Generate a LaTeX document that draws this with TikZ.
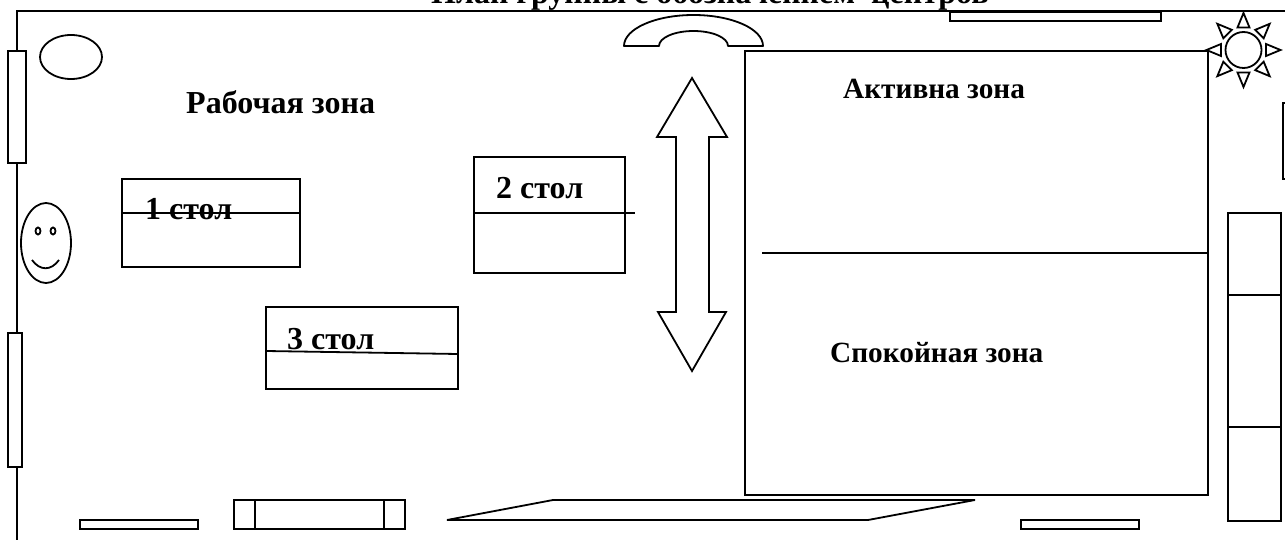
\documentclass[tikz,border=0pt]{standalone}
\usepackage{fontspec}
\setmainfont{Liberation Serif}
\tikzset{
  plan/.style={draw=black,line width=1.8pt,line join=miter,fill=white},
  ln/.style={draw=black,line width=1.8pt},
  lbl/.style={anchor=base west,inner sep=0pt,font=\fontsize{32}{36}\bfseries\selectfont},
  lblz/.style={anchor=base west,inner sep=0pt,font=\fontsize{29.3}{34}\bfseries\selectfont},
}
\begin{document}
\begin{tikzpicture}[x=1pt,y=-1pt]
\useasboundingbox (0,0) rectangle (1285,540);
\begin{scope}
\clip (0,0) rectangle (1285,540);
% title
\node[lbl] (title) at (431,4) {План группы с обозначением\ \ центров};
% walls
\draw[ln] (17,540) -- (17,11) -- (1285,11);
% windows and wall items
\draw[plan] (8,51) rectangle (26,163);
\draw[plan] (8,333) rectangle (22,467);
\draw[plan] (950,12) rectangle (1161,21);
\draw[plan] (1283,103) rectangle (1295,179);
% oval
\draw[ln] (71,57) ellipse [x radius=31,y radius=22];
% face
\draw[ln] (46,243) ellipse [x radius=25,y radius=40];
\draw[ln] (38,231) ellipse [x radius=2.5,y radius=3.5];
\draw[ln] (53,231) ellipse [x radius=2.5,y radius=3.5];
\draw[ln] (32,260) .. controls (40,271) and (51,271) .. (59,260);
% phone
\draw[ln,line join=round] (624,46) .. controls (624,28.9) and (655.1,15) .. (693.5,15)
  .. controls (731.9,15) and (763,28.9) .. (763,46) -- (728,46)
  .. controls (728,37.7) and (712.6,31) .. (693.5,31)
  .. controls (674.4,31) and (659,37.7) .. (659,46) -- cycle;
% double arrow
\draw[ln] (692,78) -- (727,137) -- (709,137) -- (709,312) -- (726,312) -- (692,371)
  -- (658,312) -- (676,312) -- (676,137) -- (657,137) -- cycle;
% zones
\draw[ln] (745,51) rectangle (1208,495);
\draw[ln] (762,253) -- (1207,253);
% sun
\draw[ln] (1243.5,50) circle (18);
\foreach \a in {0,45,...,315}{
  \draw[ln,rotate around={\a:(1243.5,50)}] (1266,44) -- (1280.5,50) -- (1266,56) -- cycle;
}
% tables
\draw[ln] (122,179) rectangle (300,267);
\draw[ln] (474,157) rectangle (625,273);
\draw[ln] (266,307) rectangle (458,389);
% rack
\draw[ln] (1228,213) rectangle (1281,521);
\draw[ln] (1228,295) -- (1281,295);
\draw[ln] (1228,427) -- (1281,427);
% bottom items
\draw[ln] (80,520) rectangle (198,529);
\draw[ln] (234,500) rectangle (405,529);
\draw[ln] (255,500) -- (255,529);
\draw[ln] (384,500) -- (384,529);
\draw[ln] (447,520) -- (553,500) -- (975,500) -- (868,520) -- cycle;
\draw[ln] (1021,520) rectangle (1139,529);
% labels
\node[lbl] (rab) at (186,114) {Рабочая зона};
\node[lblz] (akt) at (843,99) {Активна зона};
\node[lblz] (spo) at (830,362) {Спокойная зона};
\node[lbl] (s1) at (145,220) {1 стол};
\node[lbl] (s2) at (496,199) {2 стол};
\node[lbl] (s3) at (287,349) {3 стол};
% table lines over text
\draw[ln] (122,213) -- (300,213);
\draw[ln] (474,213) -- (635,213);
\draw[ln] (266,351) -- (458,354);
\end{scope}
\end{tikzpicture}
\end{document}
